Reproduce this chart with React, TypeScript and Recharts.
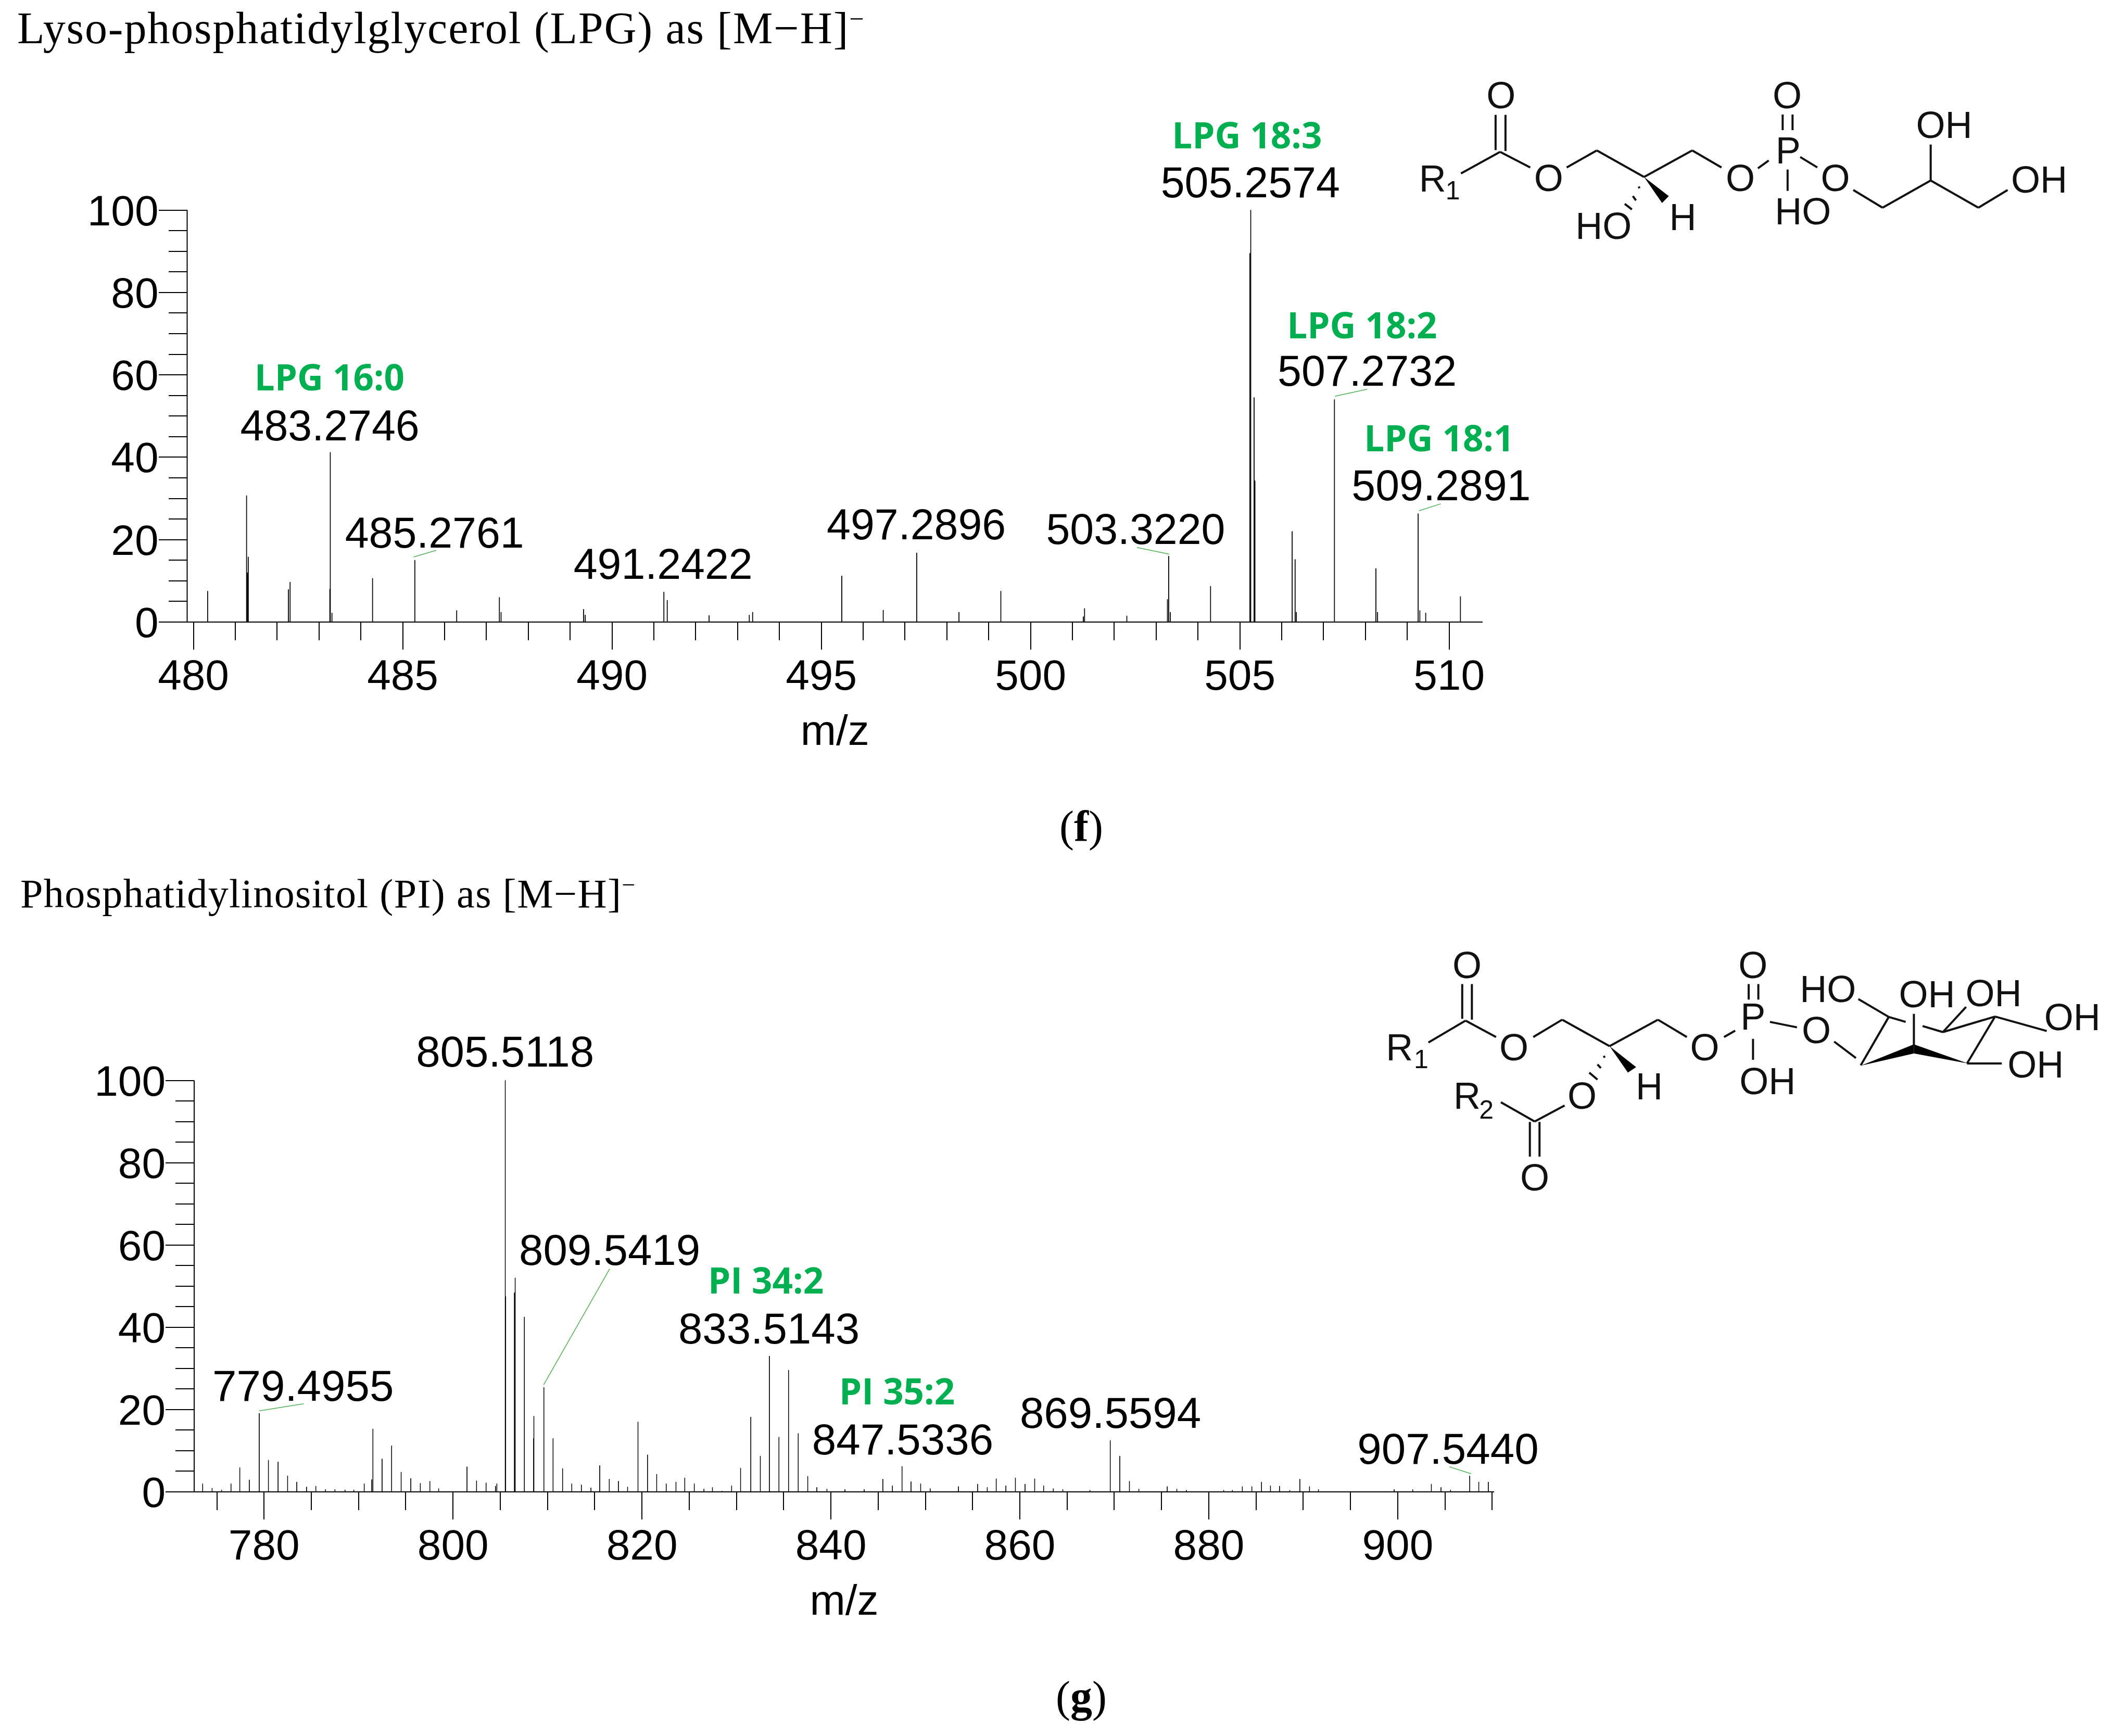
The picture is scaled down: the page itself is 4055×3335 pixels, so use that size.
import { Bar, ComposedChart, ReferenceDot, ReferenceLine, XAxis, YAxis } from 'recharts';

// panel (f) LPG spectrum
const lpgMz = [
  480.34, 481.27, 481.29, 481.31, 482.27, 482.31, 483.26, 483.27, 483.31, 484.28, 485.29, 486.29, 487.31, 487.35,
  489.32, 489.36, 491.24, 491.32, 492.32, 493.28, 493.36, 495.49, 496.48, 497.28, 498.29, 499.29, 501.26, 501.29,
  502.3, 503.27, 503.3, 503.34, 504.3, 505.24, 505.26, 505.34, 505.36, 506.25, 506.32, 506.35, 507.26, 508.25,
  508.29, 509.26, 509.3, 509.44, 510.27,
];
const lpgIntensity = [
  7.5, 30.7, 12, 15.8, 7.9, 9.7, 8, 41.2, 2.2, 10.6, 15, 2.8, 6, 2.4,
  3.1, 1.7, 7.3, 5.3, 1.6, 1.7, 2.4, 11.2, 2.9, 16.8, 2.4, 7.5, 1.3, 3.3,
  1.5, 5.5, 16, 2.4, 8.7, 89.5, 100, 54.5, 34.3, 22, 15.2, 2.4, 54, 13,
  2.4, 26.3, 2.8, 2.2, 6.2,
];
const lpgTicksX = [
  480, 481, 482, 483, 484, 485, 486, 487, 488, 489, 490, 491, 492, 493, 494, 495, 496, 497, 498, 499, 500, 501, 502,
  503, 504, 505, 506, 507, 508, 509, 510,
];
const lpgMajorX = [480, 485, 490, 495, 500, 505, 510];

// panel (g) PI spectrum
const piMz = [
  773.5, 774.5, 775.5, 776.5, 777.43, 778.44, 779.49, 780.46, 781.48, 782.49, 783.46, 784.5, 785.48, 786.5, 787.5,
  788.57, 789.5, 790.6, 791.4, 791.52, 792.49, 793.5, 794.51, 795.53, 796.54, 797.55, 798.48, 801.48, 802.49, 803.5,
  804.5, 804.64, 805.53, 805.57, 806.5, 806.58, 807.55, 808.53, 808.56, 809.62, 810.59, 811.6, 812.57, 813.59, 814.6,
  815.53, 816.54, 817.51, 818.48, 819.58, 820.59, 821.56, 822.57, 823.6, 824.53, 825.54, 826.56, 827.46, 828.47,
  829.49, 830.44, 831.52, 832.53, 833.49, 834.5, 835.52, 836.54, 837.55, 838.51, 839.58, 841.49, 843.52, 845.5,
  846.51, 847.53, 848.48, 849.5, 850.51, 853.5, 855.53, 856.55, 857.5, 858.52, 859.53, 860.55, 861.57, 862.52,
  863.54, 864.55, 867.42, 869.57, 870.58, 871.6, 872.6, 875.6, 876.62, 877.63, 881.58, 882.5, 883.55, 884.56,
  885.58, 886.53, 887.49, 888.57, 889.64, 890.66, 891.61, 899.62, 901.59, 903.56, 904.58, 905.59, 907.62, 908.58,
  909.59,
];
const piIntensity = [
  2, 0.9, 0.5, 2, 5.9, 2.9, 19.1, 7.7, 7.3, 3.9, 2.4, 1.2, 1.4, 0.6, 0.6,
  0.5, 0.5, 2, 3, 15.3, 8, 11.2, 4.8, 3.3, 2.1, 2.6, 0.8, 6.1, 2.7, 2.2,
  1.4, 2, 100, 47.5, 48.4, 52, 42.5, 13, 18.4, 25.4, 13, 5.7, 2, 1.7, 1,
  6.4, 3.1, 2.6, 1.2, 17, 9, 4.3, 2, 2.4, 3.4, 2, 0.7, 1.1, 0.2,
  1.5, 5.8, 18.2, 8.7, 33, 13.3, 29.6, 14.2, 3.8, 1.1, 0.7, 0.6, 0.6, 3.1,
  1.5, 6.2, 2.5, 2, 0.8, 1.3, 1.9, 1.1, 3.2, 1.5, 3.4, 1.9, 3.2, 1.5,
  0.8, 0.6, 0.4, 12.5, 8.7, 2.6, 0.7, 1.3, 0.7, 0.4, 0.4, 0.4, 1.3, 1.3,
  2.4, 1.5, 1.4, 0.4, 3.1, 1.3, 0.6, 0.6, 0.6, 1.9, 1.1, 0.5, 3.9, 2.4,
  2.4,
];
const piTicksX = [
  775, 780, 785, 790, 795, 800, 805, 810, 815, 820, 825, 830, 835, 840, 845, 850, 855, 860, 865, 870, 875, 880, 885,
  890, 895, 900, 905, 910,
];
const piMajorX = [780, 800, 820, 840, 860, 880, 900];

const ticksY = [0, 5, 10, 15, 20, 25, 30, 35, 40, 45, 50, 55, 60, 65, 70, 75, 80, 85, 90, 95, 100];
const majorY = [0, 20, 40, 60, 80, 100];

// annotations sit in data coordinates: [text, m/z, intensity]
const lpgMassLabels: [string, number, number][] = [
  ['483.2746', 483.26, 44.1],
  ['485.2761', 485.76, 18.1],
  ['491.2422', 491.22, 10.5],
  ['497.2896', 497.27, 20.1],
  ['503.3220', 502.51, 19.0],
  ['505.2574', 505.25, 103.1],
  ['507.2732', 508.04, 57.3],
  ['509.2891', 509.81, 29.6],
];
const lpgNames: [string, number, number][] = [
  ['LPG 16:0', 483.25, 56.2],
  ['LPG 18:3', 505.17, 115.0],
  ['LPG 18:2', 507.92, 68.9],
  ['LPG 18:1', 509.76, 41.5],
];
const lpgCallouts = [
  [485.26, 15.8, 485.8, 17.4],
  [507.27, 54.8, 508.04, 56.5],
  [509.28, 27, 509.8, 28.7],
  [503.31, 16.5, 502.54, 18.1],
];
const piMassLabels: [string, number, number][] = [
  ['805.5118', 805.51, 103.4],
  ['779.4955', 784.13, 22.1],
  ['809.5419', 816.58, 55.1],
  ['833.5143', 833.44, 36.0],
  ['847.5336', 847.6, 9.1],
  ['869.5594', 869.59, 15.5],
  ['907.5440', 905.32, 6.8],
];
const piNames: [string, number, number][] = [
  ['PI 34:2', 833.11, 48.2],
  ['PI 35:2', 847.0, 21.3],
];
const piCallouts = [
  [779.5, 19.7, 784.19, 21.4],
  [809.59, 26, 816.58, 54.2],
  [905.45, 6.1, 907.77, 4.4],
];

const SANS = '"Liberation Sans", Arial, sans-serif';
const GREEN = '#00b050';

function XTick({ x, y, payload, major }: any) {
  const isMajor = major.includes(payload.value);
  return (
    <g>
      <line x1={x} x2={x} y1={y} y2={y + (isMajor ? 53 : 35)} stroke="#000" strokeWidth={2} shapeRendering="crispEdges" />
      {isMajor && (
        <text x={x} y={y + 130} textAnchor="middle" fontSize={82} fontFamily={SANS} fill="#000">
          {payload.value}
        </text>
      )}
    </g>
  );
}

function YTick({ x, y, payload }: any) {
  const isMajor = majorY.includes(payload.value);
  return (
    <g>
      <line x1={x - (isMajor ? 55 : 36)} x2={x} y1={y} y2={y} stroke="#000" strokeWidth={2} shapeRendering="crispEdges" />
      {isMajor && (
        <text x={x - 55} y={y + 29} textAnchor="end" fontSize={82} fontFamily={SANS} fill="#000">
          {payload.value}
        </text>
      )}
    </g>
  );
}

function Spectrum({ mz, intensity, domain, ticks, major, top, height, right, marginTop, axisHeight, axisWidth, barWidth, massFont, masses, names, callouts }: any) {
  const rows = mz.map((m: number, i: number) => ({ mz: m, intensity: intensity[i] }));
  return (
    <div style={{ position: 'absolute', left: 0, top }}>
      <ComposedChart width={3000} height={height} data={rows} margin={{ top: marginTop, right, bottom: 0, left: 0 }}>
        <XAxis
          dataKey="mz"
          type="number"
          domain={domain}
          ticks={ticks}
          interval={0}
          allowDataOverflow
          height={axisHeight}
          tickSize={0}
          tickMargin={0}
          tickLine={false}
          axisLine={{ stroke: '#000', strokeWidth: 2 }}
          tick={(p: any) => <XTick {...p} major={major} />}
          label={{ value: 'm/z', position: 'insideBottom', offset: axisHeight - 236, fontSize: 82, fontFamily: SANS, fill: '#000' }}
        />
        <YAxis
          type="number"
          domain={[0, 100]}
          ticks={ticksY}
          interval={0}
          width={axisWidth}
          tickSize={0}
          tickMargin={0}
          tickLine={false}
          axisLine={{ stroke: '#000', strokeWidth: 2 }}
          tick={(p: any) => <YTick {...p} />}
        />
        <Bar dataKey="intensity" fill="#000" stroke="#000" strokeWidth={1} barSize={barWidth} isAnimationActive={false} />
        {callouts.map((c: number[], i: number) => (
          <ReferenceLine
            key={i}
            segment={[{ x: c[0], y: c[1] }, { x: c[2], y: c[3] }]}
            stroke="#4cb050"
            strokeWidth={1.5}
            ifOverflow="visible"
          />
        ))}
        {masses.map((a: any) => (
          <ReferenceDot
            key={a[0]}
            x={a[1]}
            y={a[2]}
            ifOverflow="visible"
            shape={(p: any) => (
              <text x={p.cx} y={p.cy} textAnchor="middle" fontSize={massFont} fontFamily={SANS} fill="#000">
                {a[0]}
              </text>
            )}
          />
        ))}
        {names.map((a: any) => (
          <ReferenceDot
            key={a[0]}
            x={a[1]}
            y={a[2]}
            ifOverflow="visible"
            shape={(p: any) => (
              <text x={p.cx} y={p.cy} textAnchor="middle" fontSize={69} fontWeight={700} fontFamily='"Open Sans", sans-serif' fill={GREEN}>
                {a[0]}
              </text>
            )}
          />
        ))}
      </ComposedChart>
    </div>
  );
}

// structural formulas, in their own local units
const lpgBonds = [
  [123, 700, 210, 575], [200, 362, 200, 565], [222, 362, 222, 570], [210, 575, 277, 665], [358, 665, 425, 567],
  [425, 567, 530, 720], [530, 720, 637, 567], [637, 567, 702, 665], [783, 670, 807, 625], [838, 360, 838, 450],
  [860, 360, 860, 450], [877, 605, 915, 665], [849, 677, 849, 800], [995, 795, 1060, 897], [1060, 897, 1167, 740],
  [1167, 740, 1167, 533], [1167, 740, 1273, 897], [1273, 897, 1338, 795], [518, 775, 520, 785], [505, 830, 512, 855],
  [487, 875, 503, 907],
];
const lpgWedges = ['530,720 585,830 570,870'];
const lpgAtoms: [string, number, number][] = [
  ['O', 212, 247], ['R', 60, 725], ['O', 318, 722], ['O', 744, 722], ['P', 850, 565], ['O', 848, 247], ['OH', 1197, 417],
  ['O', 955, 722], ['OH', 1408, 732], ['HO', 440, 1000], ['H', 616, 947], ['HO', 883, 915],
];
const lpgSubs: [string, number, number][] = [['1', 105, 795]];

const piBonds = [
  [155, 635, 232, 515], [225, 315, 225, 505], [245, 315, 245, 510], [232, 515, 295, 605], [372, 605, 432, 510],
  [432, 510, 530, 655], [530, 655, 630, 510], [630, 510, 690, 605], [767, 605, 790, 570], [818, 315, 818, 400],
  [838, 315, 838, 400], [862, 522, 918, 552], [827, 615, 827, 730], [995, 630, 1040, 720], [1050, 760, 1108, 495],
  [1108, 495, 1045, 397], [1108, 495, 1143, 522], [1178, 545, 1220, 578], [1220, 578, 1328, 493], [1220, 578, 1268, 440],
  [1328, 493, 1435, 572], [1328, 493, 1270, 750], [1270, 750, 1342, 750], [1160, 478, 1160, 650], [305, 962, 375, 1068],
  [375, 1068, 437, 980], [365, 1070, 365, 1260], [385, 1070, 385, 1260], [518, 708, 520, 718], [505, 755, 512, 775],
  [488, 800, 505, 838],
];
const piWedges = ['1050,762 1160,645 1160,695', '1160,645 1272,750 1160,695', '530,655 585,770 568,800'];
const piAtoms: [string, number, number][] = [
  ['O', 235, 208], ['R', 95, 660], ['O', 332, 660], ['O', 727, 660], ['P', 827, 490], ['O', 827, 208], ['HO', 982, 340],
  ['OH', 1187, 368], ['OH', 1325, 362], ['OH', 1488, 492], ['O', 958, 565], ['OH', 1412, 752], ['OH', 857, 845],
  ['H', 612, 872], ['O', 473, 925], ['R', 235, 925], ['O', 375, 1372],
];
const piSubs: [string, number, number][] = [['1', 140, 725], ['2', 275, 1000]];

function Structure({ ox, oy, kx, ky, bonds, wedges, atoms, subs }: any) {
  const px = (v: number) => ox + v / kx;
  const py = (v: number) => oy + v / ky;
  return (
    <g>
      {bonds.map((b: number[], i: number) => (
        <line key={i} x1={px(b[0])} y1={py(b[1])} x2={px(b[2])} y2={py(b[3])} stroke="#111" strokeWidth={4} />
      ))}
      {wedges.map((w: string, i: number) => (
        <polygon
          key={i}
          fill="#000"
          points={w
            .split(' ')
            .map((s) => {
              const [a, b] = s.split(',').map(Number);
              return `${px(a)},${py(b)}`;
            })
            .join(' ')}
        />
      ))}
      {atoms.map((a: any, i: number) => (
        <text key={i} x={px(a[1])} y={py(a[2]) + 26} textAnchor="middle" fontSize={72} fontFamily={SANS} fill="#111">
          {a[0]}
        </text>
      ))}
      {subs.map((a: any, i: number) => (
        <text key={i} x={px(a[1])} y={py(a[2]) + 18} textAnchor="middle" fontSize={50} fontFamily={SANS} fill="#111">
          {a[0]}
        </text>
      ))}
    </g>
  );
}

const SERIF = '"Liberation Serif", serif';

export default function App() {
  return (
    <div style={{ position: 'absolute', left: 0, top: 0, width: 4055, height: 3335, background: '#fff', overflow: 'hidden' }}>
      <Spectrum
        mz={lpgMz}
        intensity={lpgIntensity}
        domain={[479.85, 510.8]}
        ticks={lpgTicksX}
        major={lpgMajorX}
        top={200}
        height={1300}
        right={152}
        marginTop={203.5}
        axisHeight={305}
        axisWidth={359.5}
        barWidth={2}
        massFont={82.5}
        masses={lpgMassLabels}
        names={lpgNames}
        callouts={lpgCallouts}
      />
      <Spectrum
        mz={piMz}
        intensity={piIntensity}
        domain={[772.6, 910.2]}
        ticks={piTicksX}
        major={piMajorX}
        top={1950}
        height={1200}
        right={130}
        marginTop={125.5}
        axisHeight={284}
        axisWidth={373}
        barWidth={2}
        massFont={83.5}
        masses={piMassLabels}
        names={piNames}
        callouts={piCallouts}
      />
      <svg width={4055} height={3335} style={{ position: 'absolute', left: 0, top: 0, pointerEvents: 'none' }}>
        <text x={33} y={83} fontSize={86} letterSpacing={1.9} fontFamily={SERIF} fill="#000">
          Lyso-phosphatidylglycerol (LPG) as [M−H]
          <tspan fontSize={50} dy={-30}>−</tspan>
        </text>
        <text x={39} y={1743} fontSize={78} letterSpacing={1.4} fontFamily={SERIF} fill="#000">
          Phosphatidylinositol (PI) as [M−H]
          <tspan fontSize={46} dy={-28}>−</tspan>
        </text>
        <text x={2077} y={1616} textAnchor="middle" fontSize={84} fontFamily={SERIF} fill="#000">
          (<tspan fontWeight={700}>f</tspan>)
        </text>
        <text x={2077} y={3288} textAnchor="middle" fontSize={84} fontFamily={SERIF} fill="#000">
          (<tspan fontWeight={700}>g</tspan>)
        </text>
        <Structure ox={2700} oy={100} kx={1.157} ky={3} bonds={lpgBonds} wedges={lpgWedges} atoms={lpgAtoms} subs={lpgSubs} />
        <Structure ox={2600} oy={1780} kx={1.0777} ky={2.851} bonds={piBonds} wedges={piWedges} atoms={piAtoms} subs={piSubs} />
      </svg>
    </div>
  );
}
